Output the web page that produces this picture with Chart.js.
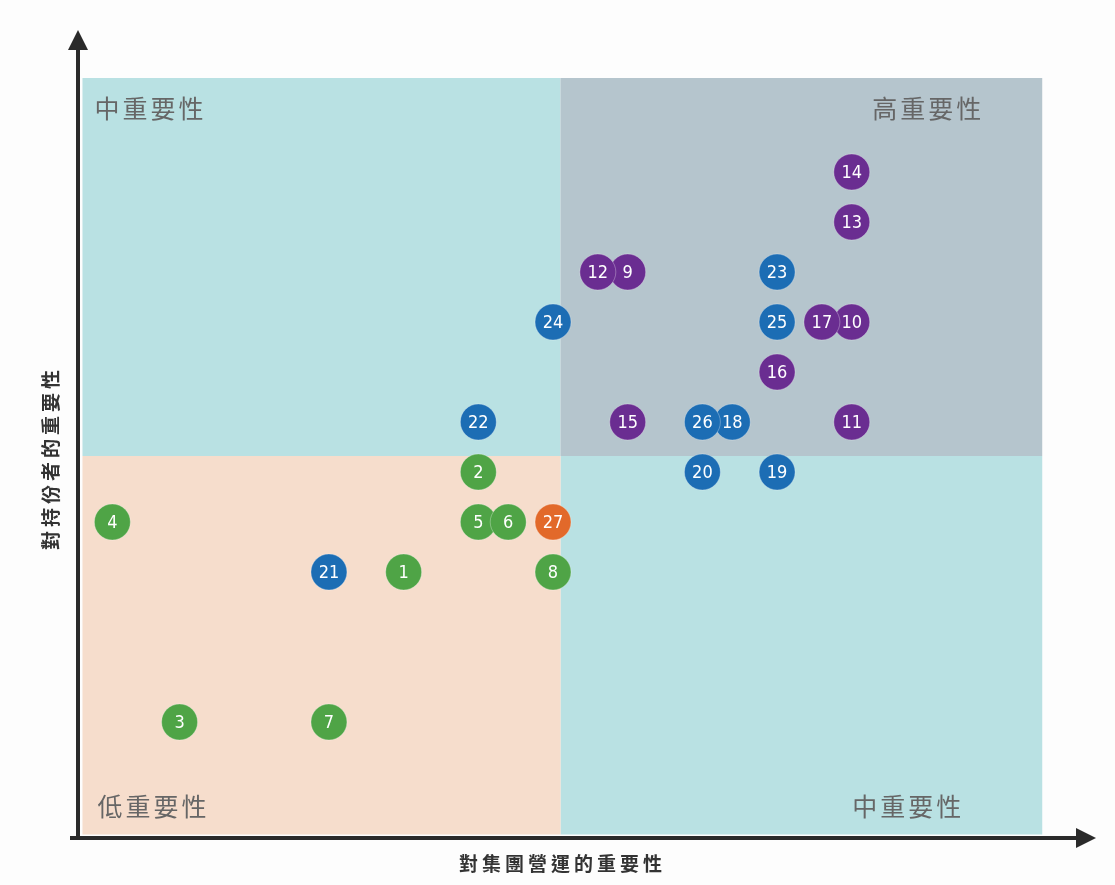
<!DOCTYPE html>
<html>
<head>
<meta charset="utf-8">
<script src="https://cdn.jsdelivr.net/npm/chart.js@4"></script>
<style>
  html, body { margin: 0; padding: 0; background: #fdfdfd; }
  #wrap { width: 1115px; height: 885px; }
</style>
</head>
<body>
<div id="wrap"><canvas id="matrix"></canvas></div>
<script>
// issue number, x = importance to operations, y = importance to stakeholders
var issueIds = [1, 2, 3, 4, 5, 6, 7, 8, 9, 10, 11, 12, 13, 14, 15, 16, 17, 18, 19, 20, 21, 22, 23, 24, 25, 26, 27];
var xScores  = [4, 5, 1, 0.1, 5, 5.4, 3, 6, 7, 10, 10, 6.6, 10, 10, 7, 9, 9.6, 8.4, 9, 8, 3, 5, 9, 6, 9, 8, 6];
var yScores  = [5, 7, 2, 6, 6, 6, 2, 5, 11, 10, 8, 11, 12, 13, 8, 9, 10, 8, 7, 7, 5, 8, 11, 10, 10, 8, 6];
var groups   = ['g', 'g', 'g', 'g', 'g', 'g', 'g', 'g', 'p', 'p', 'p', 'p', 'p', 'p', 'p', 'p', 'p',
                'b', 'b', 'b', 'b', 'b', 'b', 'b', 'b', 'b', 'o'];

var quadrantLabels = ['中重要性', '高重要性', '低重要性', '中重要性'];
var xTitle = '對集團營運的重要性';
var yTitle = '對持份者的重要性';

var groupColors = { g: '#4fa446', p: '#6a2d91', b: '#1c6db4', o: '#e2692a' };

// quadrant limits, in data units
var qLeft = -0.3, qSplitX = 6.1, qRight = 12.55;
var qBottom = -0.25, qSplitY = 7.32, qTop = 14.88;

var datasets = ['g', 'o', 'p', 'b'].map(function(g) {
    var pts = [];
    for (var i = 0; i < issueIds.length; i++) {
        if (groups[i] == g) pts.push({ x: xScores[i], y: yScores[i], id: issueIds[i] });
    }
    return {
        data: pts,
        backgroundColor: groupColors[g],
        borderColor: 'rgba(255,255,255,0.3)',
        borderWidth: 1,
        pointRadius: 18,
        pointHoverRadius: 18
    };
});

var matrixPlugin = {
    id: 'matrix',
    beforeDatasetsDraw: function(chart) {
        var ctx = chart.ctx, xs = chart.scales.x, ys = chart.scales.y;
        var l = xs.getPixelForValue(qLeft), m = xs.getPixelForValue(qSplitX), r = xs.getPixelForValue(qRight);
        var b = ys.getPixelForValue(qBottom), c = ys.getPixelForValue(qSplitY), t = ys.getPixelForValue(qTop);
        ctx.save();
        ctx.fillStyle = '#b9e1e3';
        ctx.fillRect(l, t, m - l, c - t);
        ctx.fillRect(m, c, r - m, b - c);
        ctx.fillStyle = '#b5c5cd';
        ctx.fillRect(m, t, r - m, c - t);
        ctx.fillStyle = '#f6ddcc';
        ctx.fillRect(l, c, m - l, b - c);

        // corner labels
        ctx.fillStyle = '#666666';
        ctx.font = '25px "Noto Sans CJK TC"';
        ctx.letterSpacing = '3px';
        ctx.textBaseline = 'middle';
        ctx.textAlign = 'left';
        ctx.fillText(quadrantLabels[0], l + 12, t + 30);
        ctx.fillText(quadrantLabels[2], l + 15, b - 28);
        ctx.textAlign = 'right';
        ctx.fillText(quadrantLabels[1], r - 58, t + 30);
        ctx.fillText(quadrantLabels[3], r - 78, b - 28);
        ctx.letterSpacing = '0px';

        // axes with arrow heads
        var ca = chart.chartArea;
        ctx.strokeStyle = '#2a2a2a';
        ctx.fillStyle = '#2a2a2a';
        ctx.lineWidth = 4;
        ctx.beginPath();
        ctx.moveTo(ca.left, ca.bottom + 2);
        ctx.lineTo(ca.left, ca.top + 14);
        ctx.moveTo(ca.left - 8, ca.bottom);
        ctx.lineTo(ca.right - 14, ca.bottom);
        ctx.stroke();
        ctx.beginPath();
        ctx.moveTo(ca.left, ca.top);
        ctx.lineTo(ca.left - 10, ca.top + 20);
        ctx.lineTo(ca.left + 10, ca.top + 20);
        ctx.closePath();
        ctx.fill();
        ctx.beginPath();
        ctx.moveTo(ca.right, ca.bottom);
        ctx.lineTo(ca.right - 20, ca.bottom - 10);
        ctx.lineTo(ca.right - 20, ca.bottom + 10);
        ctx.closePath();
        ctx.fill();

        // axis titles
        ctx.fillStyle = '#333333';
        ctx.font = 'bold 19px "Noto Sans CJK TC"';
        ctx.letterSpacing = '4px';
        ctx.textAlign = 'center';
        ctx.fillText(xTitle, m + 2, ca.bottom + 26);
        ctx.translate(ca.left - 27, c + 2);
        ctx.rotate(-Math.PI / 2);
        ctx.fillText(yTitle, 0, 0);
        ctx.restore();
    },
    afterDatasetsDraw: function(chart) {
        var ctx = chart.ctx;
        ctx.save();
        ctx.fillStyle = '#ffffff';
        ctx.font = '18px "DejaVu Sans Condensed"';
        ctx.textAlign = 'center';
        ctx.textBaseline = 'middle';
        chart.data.datasets.forEach(function(ds, di) {
            chart.getDatasetMeta(di).data.forEach(function(el, i) {
                ctx.fillText(String(ds.data[i].id), el.x, el.y + 1);
            });
        });
        ctx.restore();
    }
};

new Chart(document.getElementById('matrix'), {
    type: 'scatter',
    data: { datasets: datasets },
    options: {
        responsive: true,
        maintainAspectRatio: false,
        animation: false,
        layout: { padding: { left: 78, right: 15, top: 30, bottom: 47 } },
        scales: {
            x: { display: false, min: -0.36, max: 13.27 },
            y: { display: false, min: -0.32, max: 15.84 }
        },
        plugins: {
            legend: { display: false },
            tooltip: { enabled: false }
        }
    },
    plugins: [matrixPlugin]
});
</script>
</body>
</html>
